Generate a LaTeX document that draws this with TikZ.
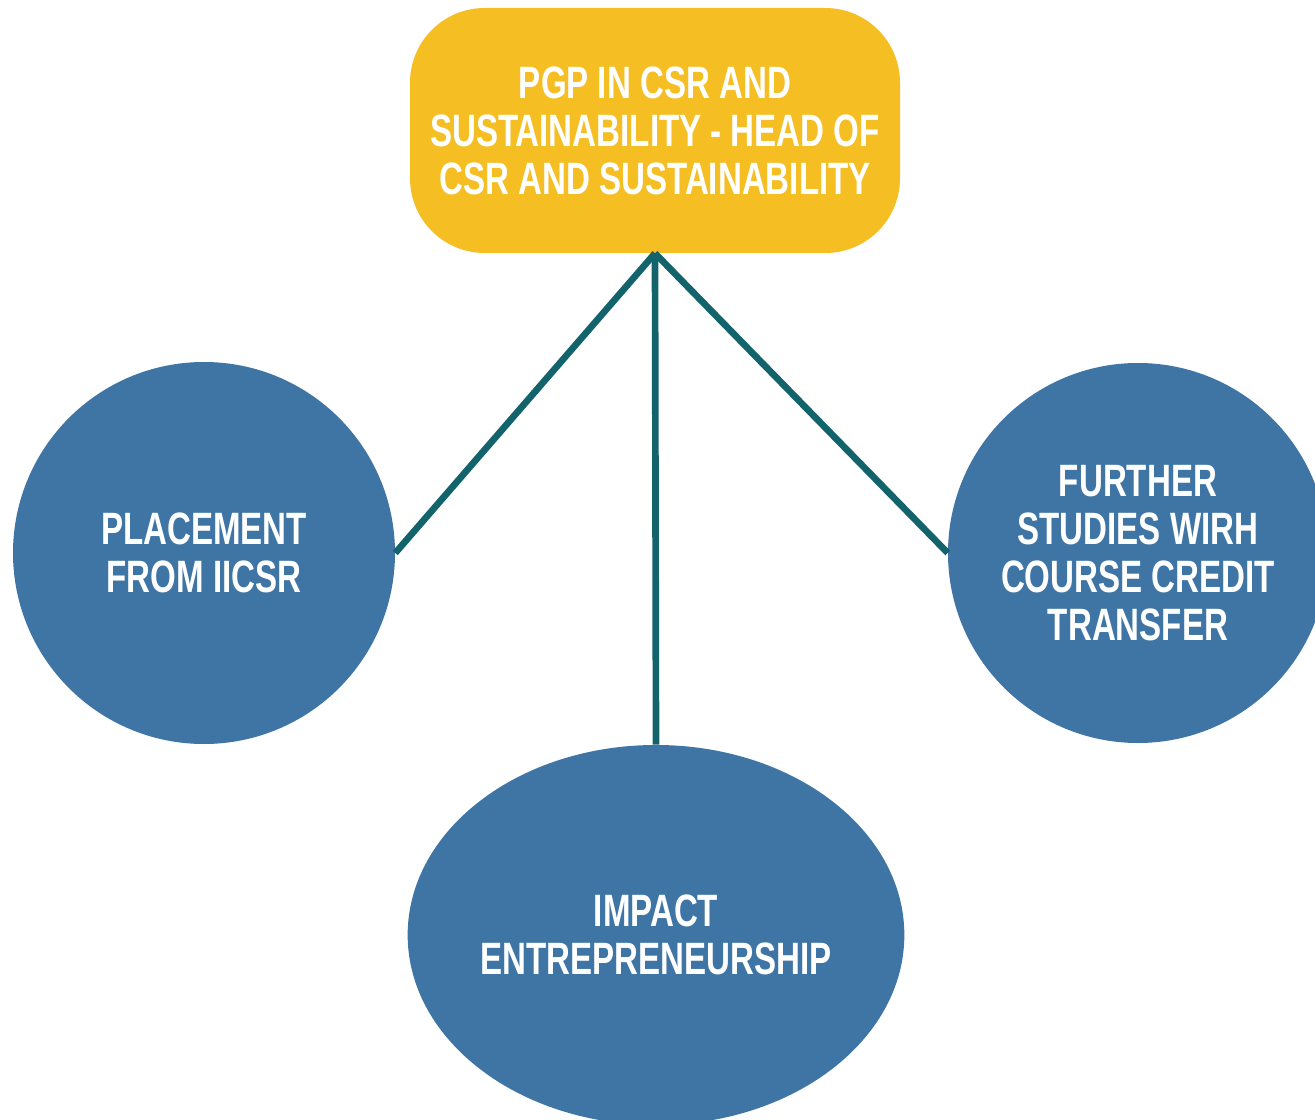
\documentclass[tikz,border=0pt]{standalone}
\usepackage{fontspec}
\setmainfont{Liberation Sans}[BoldFeatures={FakeStretch=0.73}]
\usetikzlibrary{shapes.geometric}
\definecolor{topyellow}{HTML}{F5BE23}
\definecolor{bubble}{HTML}{3F75A5}
\definecolor{linkteal}{HTML}{12636B}
\tikzset{
  lbl/.style={text=white, font=\fontsize{34}{36}\selectfont\bfseries, align=center, inner sep=0pt},
  bubblebox/.style={lbl, fill=bubble, draw=none},
  link/.style={draw=linkteal, line width=5pt}
}
\begin{document}
\begin{tikzpicture}[x=0.75pt,y=-0.75pt]
\useasboundingbox (0,0) rectangle (1315,1120);
\node[lbl, fill=topyellow, rounded corners=56pt, minimum width=367.5pt, minimum height=183.75pt] (top) at (655,130.5)
  {PGP IN CSR AND\\SUSTAINABILITY - HEAD OF\\CSR AND SUSTAINABILITY};
\node[bubblebox, circle, minimum size=286.5pt] (left) at (204,553) {PLACEMENT\\FROM IICSR};
\node[bubblebox, circle, minimum size=285pt] (right) at (1138,553) {FURTHER\\STUDIES WIRH\\COURSE CREDIT\\TRANSFER};
\node[bubblebox, ellipse, minimum width=369pt, minimum height=285pt] (bottom) at (656,935) {IMPACT\\ENTREPRENEURSHIP};
\draw[link] (top.south) -- (left.east);
\draw[link] (top.south) -- (bottom.north);
\draw[link] (top.south) -- (right.west);
\end{tikzpicture}
\end{document}
